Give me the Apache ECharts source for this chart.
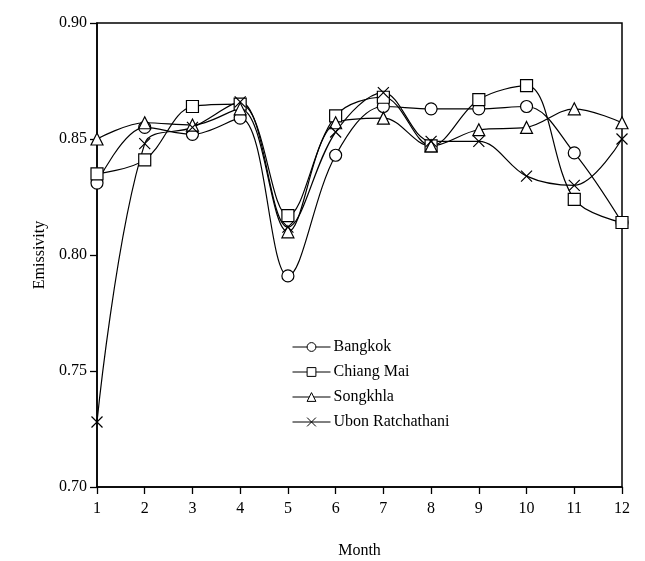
<!DOCTYPE html>
<html>
<head>
<meta charset="utf-8">
<script src="https://cdn.jsdelivr.net/npm/echarts@6/dist/echarts.min.js"></script>
<style>
  html, body { margin: 0; padding: 0; background: #fff; }
  #chart { width: 645px; height: 561px; }
</style>
</head>
<body>
<div id="chart"></div>
<script>
const months = [1, 2, 3, 4, 5, 6, 7, 8, 9, 10, 11, 12];
const bangkok = [0.831, 0.855, 0.852, 0.859, 0.791, 0.843, 0.864, 0.863, 0.863, 0.864, 0.844, 0.814];
const chiangMai = [0.835, 0.841, 0.864, 0.865, 0.817, 0.860, 0.868, 0.847, 0.867, 0.873, 0.824, 0.814];
const songkhla = [0.850, 0.857, 0.856, 0.863, 0.810, 0.857, 0.859, 0.847, 0.854, 0.855, 0.863, 0.857];
const ubon = [0.728, 0.848, 0.855, 0.866, 0.812, 0.853, 0.870, 0.849, 0.849, 0.834, 0.830, 0.850];

const FONT = "Liberation Serif";
const crossSymbol = "path://M0,0L10,10M10,0L0,10";

const chartDom = document.getElementById("chart");
const myChart = echarts.init(chartDom);

const makeSeries = (name, values, symbol, size) => ({
  name: name,
  type: "line",
  data: months.map((m, i) => [m, values[i]]),
  smooth: 0.35,
  symbol: symbol,
  symbolSize: size,
  showAllSymbol: true,
  lineStyle: { color: "#000", width: 1.2 },
  itemStyle: { color: "#fff", borderColor: "#000", borderWidth: 1.2 },
  emphasis: { disabled: true },
  z: 3,
});

const option = {
  animation: false,
  backgroundColor: "#fff",
  textStyle: { fontFamily: FONT, color: "#000" },
  grid: {
    left: 97,
    right: 23,
    top: 23,
    bottom: 74,
    outerBoundsMode: "none",
    show: true,
    borderColor: "#000",
    borderWidth: 1.5,
  },
  legend: {
    orient: "vertical",
    left: 287,
    top: 334,
    itemWidth: 38,
    itemHeight: 11,
    itemGap: 9,
    lineStyle: { width: 1 },
    itemStyle: { borderWidth: 1 },
    textStyle: { fontFamily: FONT, fontSize: 16, color: "#000", padding: [0, 0, 0, -2] },
    data: ["Bangkok", "Chiang Mai", "Songkhla", "Ubon Ratchathani"],
  },
  xAxis: {
    type: "value",
    min: 1,
    max: 12,
    interval: 1,
    name: "Month",
    nameLocation: "middle",
    nameGap: 56,
    nameTextStyle: { fontFamily: FONT, fontSize: 16, color: "#000" },
    axisLine: { lineStyle: { color: "#000", width: 1.5 } },
    axisTick: { length: 7, lineStyle: { color: "#000", width: 1.3 } },
    axisLabel: { fontFamily: FONT, fontSize: 16, color: "#000", margin: 14 },
    splitLine: { show: false },
  },
  yAxis: {
    type: "value",
    min: 0.7,
    max: 0.9,
    interval: 0.05,
    name: "Emissivity",
    nameLocation: "middle",
    nameGap: 49,
    nameTextStyle: { fontFamily: FONT, fontSize: 16, color: "#000" },
    axisLine: { show: true, lineStyle: { color: "#000", width: 1.5 } },
    axisTick: { show: true, length: 7, lineStyle: { color: "#000", width: 1.3 } },
    axisLabel: {
      fontFamily: FONT,
      fontSize: 16,
      color: "#000",
      margin: 10,
      formatter: (v) => v.toFixed(2),
    },
    splitLine: { show: false },
  },
  series: [
    makeSeries("Bangkok", bangkok, "circle", 12),
    makeSeries("Chiang Mai", chiangMai, "rect", 12),
    makeSeries("Songkhla", songkhla, "triangle", 12),
    makeSeries("Ubon Ratchathani", ubon, crossSymbol, 11),
  ],
};

myChart.setOption(option);
</script>
</body>
</html>
